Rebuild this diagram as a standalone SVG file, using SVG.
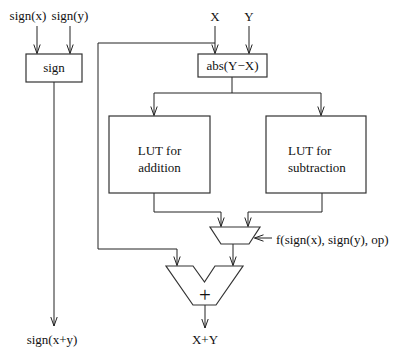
<svg xmlns="http://www.w3.org/2000/svg" width="393" height="356" viewBox="0 0 393 356">
<defs>
<marker id="ah" markerUnits="userSpaceOnUse" markerWidth="12" markerHeight="10" viewBox="-10 -5 12 10" refX="0" refY="0" orient="auto">
<path d="M-9,-3.2 L0,0 L-9,3.2" fill="none" stroke="#222" stroke-width="1"/>
</marker>
<style>
text{font-family:"Liberation Serif","Times New Roman",serif;font-size:13px;fill:#111}
text.plus{font-size:21px}
.b{fill:#fff;stroke:#333;stroke-width:1.2}
.c{fill:none;stroke:#222;stroke-width:1}
.a{marker-end:url(#ah)}
</style>
</defs>
<rect width="393" height="356" fill="#fff"/>
<g id="labels">
<text x="28" y="20" text-anchor="middle">sign(x)</text>
<text x="70" y="20" text-anchor="middle">sign(y)</text>
<text x="215" y="21" text-anchor="middle">X</text>
<text x="249" y="21" text-anchor="middle">Y</text>
<text x="52" y="344" text-anchor="middle">sign(x+y)</text>
<text x="205" y="344" text-anchor="middle">X+Y</text>
<text x="276" y="244">f(sign(x), sign(y), op)</text>
</g>
<g id="connectors">
<path class="c a" d="M37,26 V53.5"/>
<path class="c a" d="M70,26 V53.5"/>
<path class="c a" d="M54,82 V326"/>
<path class="c a" d="M215,26 V53.5"/>
<path class="c a" d="M249,26 V53.5"/>
<path class="c a" d="M215,43 H98 V249 H177 V265.5"/>
<path class="c" d="M232,77 V93"/>
<path class="c" d="M154,93 H321"/>
<path class="c a" d="M154,93 V115.5"/>
<path class="c a" d="M321,93 V115.5"/>
<path class="c a" d="M154,193 V212 H221 V226.5"/>
<path class="c a" d="M322,193 V212 H248 V226.5"/>
<path class="c a" d="M272,238 H254.5"/>
<path class="c a" d="M233,244 V265.5"/>
<path class="c a" d="M205,305 V328"/>
</g>
<g id="sign">
<rect class="b" x="26" y="54" width="56" height="28"/>
<text x="54" y="72" text-anchor="middle">sign</text>
</g>
<g id="abs">
<rect class="b" x="198" y="54" width="69" height="23"/>
<text x="232.5" y="70" text-anchor="middle">abs(Y−X)</text>
</g>
<g id="lut-add">
<rect class="b" x="109" y="116" width="101" height="77"/>
<text x="159.5" y="155" text-anchor="middle">LUT for</text>
<text x="159.5" y="172" text-anchor="middle">addition</text>
</g>
<g id="lut-sub">
<rect class="b" x="266" y="116" width="100" height="77"/>
<text x="288" y="155">LUT for</text>
<text x="288" y="172">subtraction</text>
</g>
<g id="mux">
<polygon class="b" points="210,227 260,227 249,244 221,244"/>
</g>
<g id="adder">
<polygon class="b" points="166,266 193,266 204.5,282 215,266 243,266 216,305 193,305"/>
<text class="plus" x="205" y="302" text-anchor="middle">+</text>
</g>
</svg>
